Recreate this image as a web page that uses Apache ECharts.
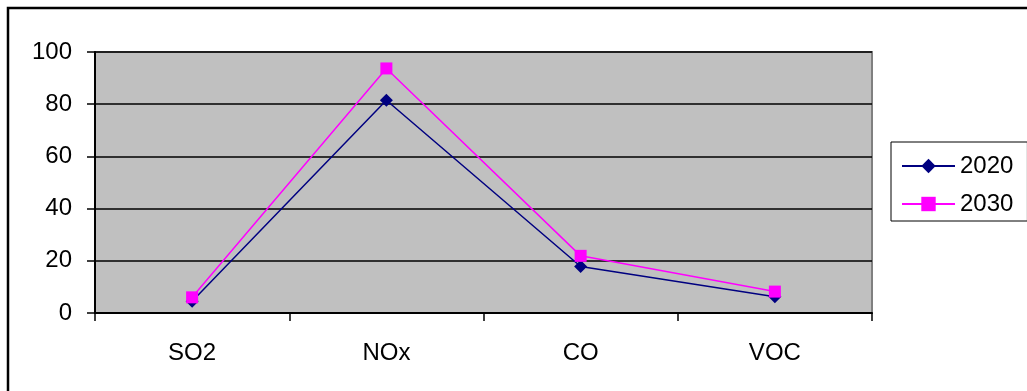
<!DOCTYPE html>
<html>
<head>
<meta charset="utf-8">
<style>
  html, body { margin: 0; padding: 0; background: #fff; }
  #chart { width: 1027px; height: 391px; }
</style>
<script src="https://cdn.jsdelivr.net/npm/echarts@6/dist/echarts.min.js"></script>
</head>
<body>
<div id="chart"></div>
<script>
// pollutant categories
var categories = ['SO2', 'NOx', 'CO', 'VOC']
// values
var values2020 = [4.5, 81.5, 17.8, 6.2]
var values2030 = [6, 93.7, 21.9, 8.2]
var yTicks = { min: 0, max: 100, interval: 20 }

var chart = echarts.init(document.getElementById('chart'))
var font = 'Liberation Sans, Arial, sans-serif'

chart.setOption({
  animation: false,
  backgroundColor: '#fff',
  textStyle: { fontFamily: font },
  // outer frame of the chart
  graphic: [{
    type: 'rect',
    shape: { x: 8, y: 8, width: 1040, height: 420 },
    style: { fill: 'none', stroke: '#000', lineWidth: 2.5 },
    silent: true
  }],
  grid: {
    left: 95,
    right: 155,
    top: 52,
    bottom: 78,
    show: true,
    backgroundColor: '#C0C0C0',
    borderColor: '#808080',
    borderWidth: 2
  },
  legend: {
    orient: 'vertical',
    left: 891,
    top: 142,
    padding: [12, 14, 5, 10],
    itemWidth: 53,
    itemHeight: 18,
    itemGap: 14,
    borderColor: '#000',
    borderWidth: 1,
    backgroundColor: '#fff',
    textStyle: { fontSize: 24, color: '#000', fontFamily: font },
    data: ['2020', '2030']
  },
  xAxis: {
    type: 'category',
    data: categories,
    boundaryGap: true,
    axisLine: { lineStyle: { color: '#000', width: 2 } },
    axisTick: { show: true, length: 8, lineStyle: { color: '#000', width: 1.5 } },
    axisLabel: { color: '#000', fontSize: 24, margin: 28, fontFamily: font },
    splitLine: { show: false }
  },
  yAxis: {
    type: 'value',
    min: yTicks.min,
    max: yTicks.max,
    interval: yTicks.interval,
    axisLine: { show: true, lineStyle: { color: '#000', width: 2 } },
    axisTick: { show: true, length: 8, lineStyle: { color: '#000', width: 1.5 } },
    axisLabel: { color: '#000', fontSize: 24, margin: 23, fontFamily: font },
    splitLine: { show: true, lineStyle: { color: '#000', width: 1.5 } }
  },
  series: [
    {
      name: '2020',
      type: 'line',
      data: values2020,
      symbol: 'diamond',
      symbolSize: 13,
      itemStyle: { color: '#000080' },
      lineStyle: { color: '#000080', width: 1.5 }
    },
    {
      name: '2030',
      type: 'line',
      data: values2030,
      symbol: 'rect',
      symbolSize: 12,
      itemStyle: { color: '#FF00FF' },
      lineStyle: { color: '#FF00FF', width: 1.5 }
    }
  ]
})
</script>
</body>
</html>
